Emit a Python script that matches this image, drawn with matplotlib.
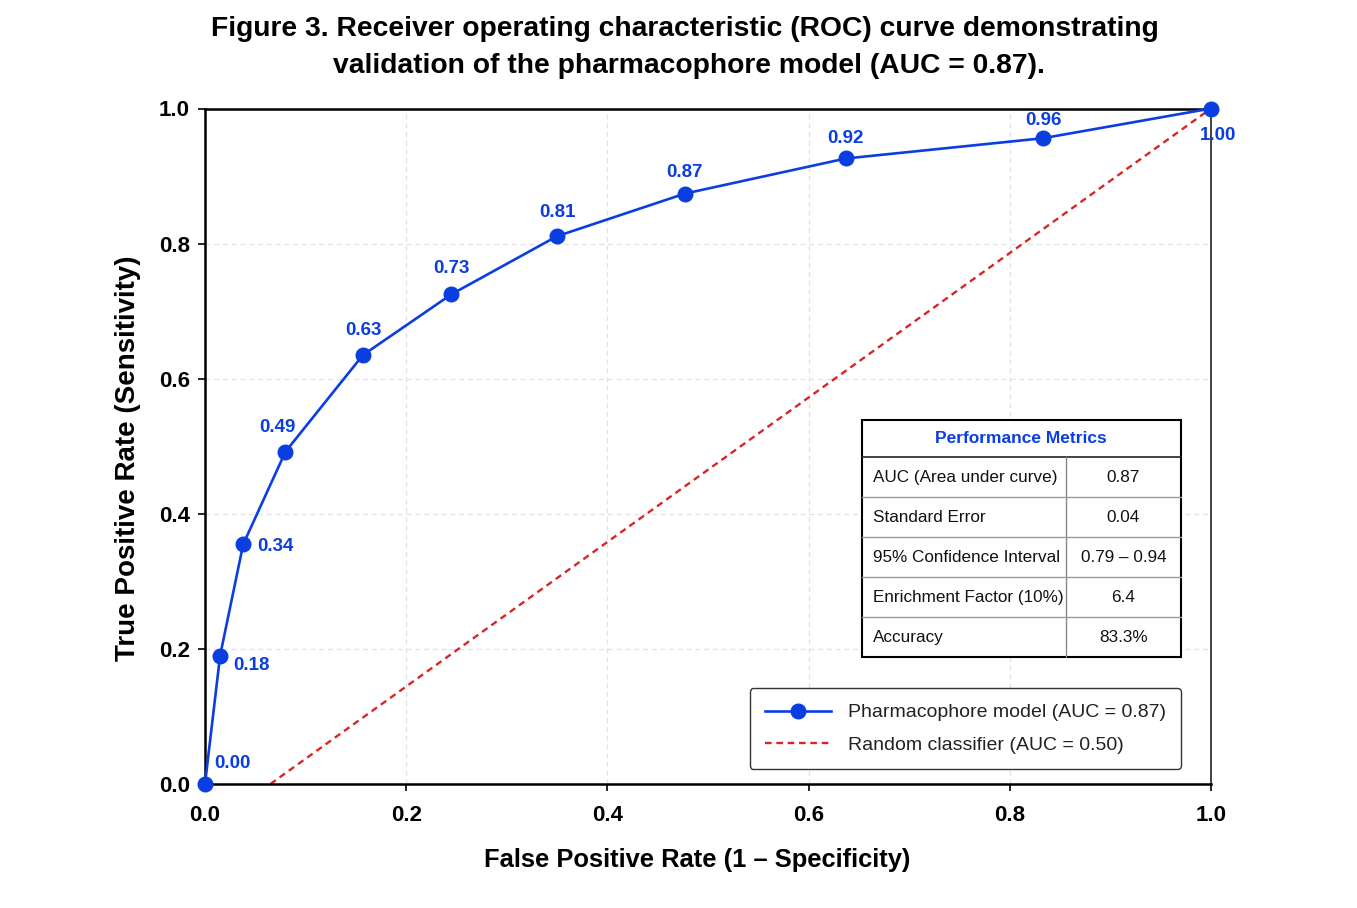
import matplotlib
matplotlib.use("Agg")
import matplotlib.pyplot as plt
from matplotlib.patches import Rectangle

plt.rcParams['font.family'] = ['Liberation Sans', 'DejaVu Sans']

# ---- data ----
fpr = [0.0, 0.015, 0.038, 0.080, 0.157, 0.245, 0.350, 0.477, 0.637, 0.833, 1.0]
tpr = [0.0, 0.190, 0.355, 0.492, 0.635, 0.725, 0.811, 0.874, 0.926, 0.956, 1.0]
point_labels = ["0.00", "0.18", "0.34", "0.49", "0.63", "0.73", "0.81", "0.87", "0.92", "0.96", "1.00"]
random_x = [0.065, 1.0]
random_y = [0.0, 1.0]
metric_names = ["AUC (Area under curve)", "Standard Error", "95% Confidence Interval",
                "Enrichment Factor (10%)", "Accuracy"]
metric_values = ["0.87", "0.04", "0.79 \u2013 0.94", "6.4", "83.3%"]
ticks = [0.0, 0.2, 0.4, 0.6, 0.8, 1.0]

# ---- style ----
BLUE = '#0b3ee0'
RED = '#d92525'
label_offsets = [(9, 20, 'left'), (13, -10, 'left'), (14, -2, 'left'), (-8, 24, 'center'),
                 (0, 25, 'center'), (0, 26, 'center'), (0, 24, 'center'), (0, 21, 'center'),
                 (0, 20, 'center'), (0, 18, 'center'), (7, -27, 'center')]

fig = plt.figure(figsize=(13.57, 9.08), dpi=100)
ax = fig.add_axes([205/1357, 1 - 784/908, 1006/1357, 675.5/908])

ax.grid(True, linestyle=(0, (4, 3)), color='#e2e2e2', linewidth=0.9)
ax.set_axisbelow(True)

ax.plot(random_x, random_y, linestyle=(0, (2.8, 2.0)), color=RED, linewidth=1.7,
        label='Random classifier (AUC = 0.50)', zorder=2)
ax.plot(fpr, tpr, '-o', color=BLUE, linewidth=1.9, markersize=10.5,
        label='Pharmacophore model (AUC = 0.87)', zorder=3, clip_on=False)

for x, y, s, (dx, dy, ha) in zip(fpr, tpr, point_labels, label_offsets):
    ax.annotate(s, (x, y), xytext=(dx, dy), textcoords='offset pixels',
                ha=ha, va='center', color=BLUE, fontsize=13.5, fontweight='bold', zorder=4)

ax.set_xlim(0, 1)
ax.set_ylim(0, 1)
ax.set_xticks(ticks)
ax.set_yticks(ticks)
ax.set_xticklabels([f"{t:.1f}" for t in ticks], fontsize=16, fontweight='bold')
ax.set_yticklabels([f"{t:.1f}" for t in ticks], fontsize=16, fontweight='bold')
ax.tick_params(axis='both', length=5, width=1.2)
ax.tick_params(axis='x', pad=10)
ax.tick_params(axis='y', pad=6)

for side in ['left', 'bottom', 'top']:
    ax.spines[side].set_linewidth(1.8)
    ax.spines[side].set_color('black')
ax.spines['right'].set_linewidth(1.3)
ax.spines['right'].set_color('#333333')

ax.set_xlabel('False Positive Rate (1 \u2013 Specificity)', fontsize=18.4, fontweight='bold', labelpad=16)
ax.set_ylabel('True Positive Rate (Sensitivity)', fontsize=20, fontweight='bold', labelpad=13)
ax.xaxis.label.set_x(0.489)
ax.yaxis.label.set_y(0.482)

fig.text(0.505, 1 - 29/908, 'Figure 3. Receiver operating characteristic (ROC) curve demonstrating',
         ha='center', va='center', fontsize=20.3, fontweight='bold')
fig.text(0.508, 1 - 66/908, 'validation of the pharmacophore model (AUC = 0.87).',
         ha='center', va='center', fontsize=20.3, fontweight='bold')

# ---- metrics table ----
x0, x1, xm = 0.653, 0.970, 0.856
ytop = (784 - 420) / 676
header_h = 37 / 676
row_h = 40 / 676
ybot = ytop - header_h - row_h * len(metric_names)
tr = ax.transAxes
ax.add_patch(Rectangle((x0, ybot), x1 - x0, ytop - ybot, transform=tr, facecolor='white',
                       edgecolor='black', linewidth=1.5, zorder=5))
ax.text((x0 + x1) / 2, ytop - header_h / 2, 'Performance Metrics', transform=tr, ha='center',
        va='center', color=BLUE, fontsize=12.5, fontweight='bold', zorder=6)
ax.plot([x0, x1], [ytop - header_h] * 2, transform=tr, color='#222222', linewidth=1.2, zorder=6)
ax.plot([xm, xm], [ybot, ytop - header_h], transform=tr, color='#888888', linewidth=1.0, zorder=6)
for i, (name, val) in enumerate(zip(metric_names, metric_values)):
    yc = ytop - header_h - row_h * (i + 0.5)
    ax.text(x0 + 0.011, yc, name, transform=tr, ha='left', va='center', fontsize=12.3,
            color='#111111', zorder=6)
    ax.text((xm + x1) / 2, yc, val, transform=tr, ha='center', va='center', fontsize=12.3,
            color='#111111', zorder=6)
    if i > 0:
        yl = ytop - header_h - row_h * i
        ax.plot([x0, x1], [yl, yl], transform=tr, color='#999999', linewidth=1.0, zorder=6)

handles, labels = ax.get_legend_handles_labels()
leg = ax.legend(handles[::-1], labels[::-1], loc='lower right', bbox_to_anchor=(0.9705, 0.022),
                borderaxespad=0, fontsize=14, handlelength=3.4, handletextpad=0.85,
                borderpad=0.8, labelspacing=0.75, framealpha=1,
                edgecolor='#333333', fancybox=True)
leg.get_frame().set_linewidth(1.0)
for t in leg.get_texts():
    t.set_color('#222222')
leg.set_zorder(7)

fig.savefig('out.png', dpi=100, facecolor='white')
